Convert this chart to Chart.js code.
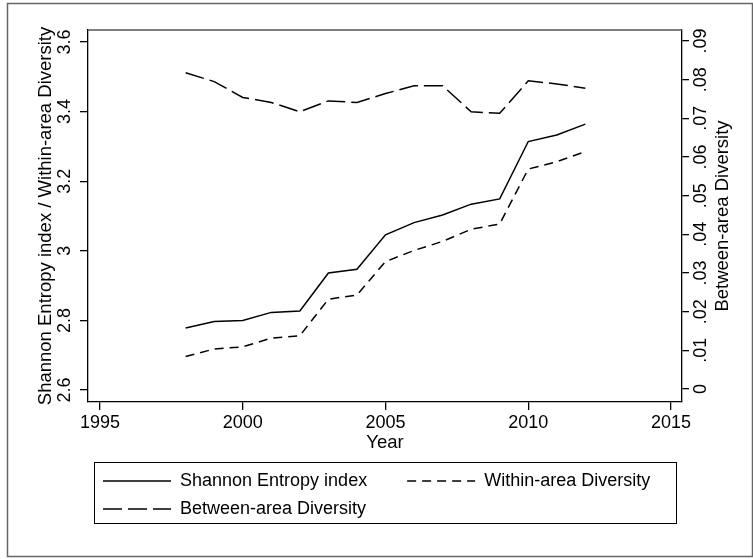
<!DOCTYPE html>
<html>
<head>
<meta charset="utf-8">
<script src="https://cdn.jsdelivr.net/npm/chart.js@4"></script>
<style>
  body { margin: 0; background: #fff; }
  canvas { display: block; }
</style>
</head>
<body>
<canvas id="chart" width="753" height="559"></canvas>
<script>
// values
const years = [1998, 1999, 2000, 2001, 2002, 2003, 2004, 2005, 2006, 2007, 2008, 2009, 2010, 2011, 2012];
const shannon = [2.778, 2.797, 2.800, 2.823, 2.827, 2.936, 2.947, 3.046, 3.081, 3.103, 3.134, 3.149, 3.314, 3.333, 3.364];
const within = [2.696, 2.718, 2.724, 2.749, 2.756, 2.861, 2.873, 2.969, 3.001, 3.027, 3.062, 3.077, 3.235, 3.256, 3.285];
const between = [0.0818, 0.0795, 0.0754, 0.0741, 0.0717, 0.0745, 0.0741, 0.0764, 0.0784, 0.0784, 0.0717, 0.0713, 0.0797, 0.0789, 0.0778];

const xTicks = [1995, 2000, 2005, 2010, 2015];
const leftTicks = [2.6, 2.8, 3.0, 3.2, 3.4, 3.6];
const leftLabels = ["2.6", "2.8", "3", "3.2", "3.4", "3.6"];
const rightTicks = [0, 0.01, 0.02, 0.03, 0.04, 0.05, 0.06, 0.07, 0.08, 0.09];
const rightLabels = ["0", ".01", ".02", ".03", ".04", ".05", ".06", ".07", ".08", ".09"];

Chart.defaults.font.family = "'Liberation Sans', Arial, sans-serif";
Chart.defaults.font.size = 18;
Chart.defaults.color = "#000";

const pts = (vals) => years.map((y, i) => ({ x: y, y: vals[i] }));

// outer frame, top edge of plot region, legend box, right axis title
const decor = {
  id: "decor",
  afterLayout(chart) {
    chart.legend.left += 5;
    chart.legend.right += 5;
  },
  afterDraw(chart) {
    const ctx = chart.ctx;
    const a = chart.chartArea;
    const lg = chart.legend;
    ctx.save();
    ctx.strokeStyle = "#666";
    ctx.lineWidth = 1.5;
    ctx.strokeRect(7.5, 3.5, 745, 553);
    ctx.strokeStyle = "#555";
    ctx.lineWidth = 1.3;
    ctx.beginPath();
    ctx.moveTo(a.left, a.top);
    ctx.lineTo(a.right, a.top);
    ctx.stroke();
    ctx.strokeStyle = "#000";
    ctx.lineWidth = 1;
    ctx.strokeRect(lg.left + 1.5, lg.top + 0.5, lg.right - lg.left - 12, lg.bottom - lg.top - 5);
    const y2 = chart.scales.y2;
    ctx.translate(y2.right - 30, (a.top + a.bottom) / 2);
    ctx.rotate(-Math.PI / 2);
    ctx.fillStyle = "#000";
    ctx.font = "18.5px 'Liberation Sans', Arial, sans-serif";
    ctx.textAlign = "center";
    ctx.textBaseline = "middle";
    ctx.fillText("Between-area Diversity", 0, 0);
    ctx.restore();
  }
};

const lineStyle = { borderColor: "#000", backgroundColor: "#000", borderWidth: 1.5, pointRadius: 0, tension: 0, fill: false };

new Chart(document.getElementById("chart"), {
  type: "line",
  data: {
    datasets: [
      { label: "Shannon Entropy index", data: pts(shannon), yAxisID: "y", ...lineStyle },
      { label: "Within-area Diversity", data: pts(within), yAxisID: "y", borderDash: [9, 6], ...lineStyle },
      { label: "Between-area Diversity", data: pts(between), yAxisID: "y2", borderDash: [19, 6], ...lineStyle }
    ]
  },
  options: {
    responsive: false,
    animation: false,
    devicePixelRatio: 1,
    layout: { padding: { top: 30, bottom: 31, left: 0, right: 0 } },
    plugins: {
      tooltip: { enabled: false },
      legend: {
        position: "bottom",
        fullSize: false,
        align: "start",
        labels: {
          usePointStyle: true,
          pointStyle: "line",
          pointStyleWidth: 68,
          padding: 10,
          font: { size: 18 },
          color: "#000",
          generateLabels(chart) {
            const items = Chart.defaults.plugins.legend.labels.generateLabels(chart);
            items.forEach((it, i) => {
              const ds = chart.data.datasets[i];
              it.lineDash = ds.borderDash || [];
              it.lineWidth = ds.borderWidth;
              it.strokeStyle = ds.borderColor;
            });
            items[0].text = items[0].text + "      ";
            return items;
          }
        }
      }
    },
    scales: {
      x: {
        type: "linear",
        min: 1994.58,
        max: 2015.385,
        afterBuildTicks: (s) => { s.ticks = xTicks.map(v => ({ value: v })); },
        afterFit: (s) => { s.height = 60; },
        ticks: { callback: (v, i) => String(xTicks[i]), padding: 2, maxRotation: 0, autoSkip: false, font: { size: 18 } },
        grid: { drawOnChartArea: false, drawTicks: true, tickLength: 8, color: "#000", lineWidth: 1.3 },
        border: { display: true, color: "#000", width: 1.3 },
        title: { display: true, text: "Year", font: { size: 18.5 }, padding: { top: 0, bottom: 8 } }
      },
      y: {
        position: "left",
        min: 2.5655,
        max: 3.6345,
        afterBuildTicks: (s) => { s.ticks = leftTicks.map(v => ({ value: v })); },
        afterFit: (s) => { s.width = 88; },
        ticks: { callback: (v, i) => leftLabels[i], minRotation: 90, maxRotation: 90, crossAlign: "center", padding: 2.5, autoSkip: false, font: { size: 18 } },
        grid: { drawOnChartArea: false, drawTicks: true, tickLength: 8, color: "#000", lineWidth: 1.3 },
        border: { display: true, color: "#000", width: 1.3 },
        title: { display: true, text: "Shannon Entropy index / Within-area Diversity", font: { size: 18.5 }, padding: { top: 35, bottom: 0 } }
      },
      y2: {
        position: "right",
        min: -0.00336,
        max: 0.09284,
        afterBuildTicks: (s) => { s.ticks = rightTicks.map(v => ({ value: v })); },
        afterFit: (s) => { s.width = 71; },
        ticks: { callback: (v, i) => rightLabels[i], minRotation: 90, maxRotation: 90, crossAlign: "center", padding: 0, autoSkip: false, font: { size: 18 } },
        grid: { drawOnChartArea: false, drawTicks: true, tickLength: 7, color: "#000", lineWidth: 1.3 },
        border: { display: true, color: "#000", width: 1.3 },
        title: { display: false }
      }
    }
  },
  plugins: [decor]
});
</script>
</body>
</html>
